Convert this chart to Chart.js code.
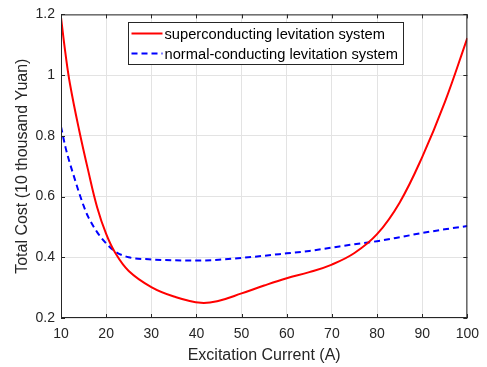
<!DOCTYPE html>
<html><head><meta charset="utf-8">
<script src="https://cdn.jsdelivr.net/npm/chart.js@4"></script>
<style>html,body{margin:0;padding:0;background:#fff}#w{width:487px;height:367px}</style>
</head><body><div id="w"><canvas id="c"></canvas></div>
<script>
const xTicks = [10,20,30,40,50,60,70,80,90,100];
const yTicks = [0.2,0.4,0.6,0.8,1.0,1.2];
const superX = [10,11,12,14,16,18,20,22,25,30,35,41,45,50,55,60,65,70,75,80,85,90,95,100];
const superY = [1.19,1.07,0.97,0.82,0.687,0.565,0.477,0.415,0.355,0.302,0.271,0.250,0.257,0.281,0.307,0.331,0.351,0.376,0.414,0.476,0.58,0.73,0.91,1.122];
const normalX = [10,11,12,13,14,15,16,18,20,22,25,30,35,40,45,50,55,60,65,70,75,80,85,90,95,100];
const normalY = [0.83,0.762,0.708,0.66,0.613,0.57,0.534,0.483,0.446,0.419,0.40,0.393,0.39,0.389,0.392,0.398,0.405,0.413,0.421,0.432,0.443,0.453,0.466,0.48,0.492,0.503];
const seriesNames = ['superconducting levitation system','normal-conducting levitation system'];

const TXT = '#262626';
const FONT = 'Liberation Sans, Arial, sans-serif';

const frame = {
  id:'frame',
  afterDraw(chart){
    const {ctx, chartArea:a, scales:{x,y}} = chart;
    ctx.save();
    ctx.strokeStyle = TXT; ctx.lineWidth = 1;
    ctx.strokeRect(a.left+0.5, a.top+0.5, a.right-a.left-1, a.bottom-a.top-1);
    ctx.beginPath();
    const L = 4;
    xTicks.forEach(v=>{ const px=Math.round(x.getPixelForValue(v))+0.5;
      ctx.moveTo(px,a.bottom); ctx.lineTo(px,a.bottom-L);
      ctx.moveTo(px,a.top); ctx.lineTo(px,a.top+L);});
    yTicks.forEach(v=>{ const py=Math.round(y.getPixelForValue(v))+0.5;
      ctx.moveTo(a.left,py); ctx.lineTo(a.left+L,py);
      ctx.moveTo(a.right,py); ctx.lineTo(a.right-L,py);});
    ctx.stroke();
    // legend
    const bx=128.5, by=22.5, bw=275, bh=42;
    ctx.fillStyle='#fff'; ctx.fillRect(bx,by,bw,bh);
    ctx.strokeStyle=TXT; ctx.strokeRect(bx,by,bw,bh);
    const ds = chart.data.datasets;
    [0,1].forEach(i=>{
      const yy = by + 11 + i*20;
      ctx.strokeStyle = ds[i].borderColor; ctx.lineWidth=2;
      ctx.setLineDash(ds[i].borderDash||[]);
      ctx.beginPath(); ctx.moveTo(bx+3,yy); ctx.lineTo(bx+34,yy); ctx.stroke();
      ctx.setLineDash([]);
      ctx.fillStyle='#000'; ctx.font='14.7px '+FONT; ctx.textBaseline='middle'; ctx.textAlign='left';
      ctx.fillText(seriesNames[i], bx+36, yy+1);
    });
    ctx.restore();
  }
};

new Chart(document.getElementById('c'), {
  type:'line',
  data:{datasets:[
    {label:seriesNames[0], data:superX.map((v,i)=>({x:v,y:superY[i]})), borderColor:'#ff0000', borderWidth:2, pointRadius:0, tension:0.4, fill:false},
    {label:seriesNames[1], data:normalX.map((v,i)=>({x:v,y:normalY[i]})), borderColor:'#0000ff', borderWidth:2, borderDash:[6,4], pointRadius:0, cubicInterpolationMode:'monotone', fill:false}
  ]},
  options:{
    responsive:true, maintainAspectRatio:false, animation:false,
    layout:{padding:{top:13,right:17,left:0,bottom:0}},
    plugins:{legend:{display:false}, tooltip:{enabled:false}},
    scales:{
      x:{type:'linear', min:10, max:100,
        afterBuildTicks(s){ s.ticks = xTicks.map(v=>({value:v})); },
        afterFit(s){ s.height = 49; },
        grid:{color:'#e3e3e3', drawTicks:false},
        border:{display:false},
        ticks:{color:TXT, font:{family:FONT,size:14}, padding:8, maxRotation:0},
        title:{display:true, text:'Excitation Current (A)', color:TXT, font:{family:FONT,size:16}, padding:{top:5,bottom:2}}
      },
      y:{type:'linear', min:0.2, max:1.2,
        afterBuildTicks(s){ s.ticks = yTicks.map(v=>({value:v})); },
        afterFit(s){ s.width = 61; },
        grid:{color:'#e3e3e3', drawTicks:false},
        border:{display:false},
        ticks:{color:TXT, font:{family:FONT,size:14}, padding:6, callback:v=>String(+v.toFixed(1))},
        title:{display:true, text:'Total Cost (10 thousand Yuan)', color:TXT, font:{family:FONT,size:16}, padding:{top:13,bottom:4}}
      }
    }
  },
  plugins:[frame]
});
</script></body></html>
